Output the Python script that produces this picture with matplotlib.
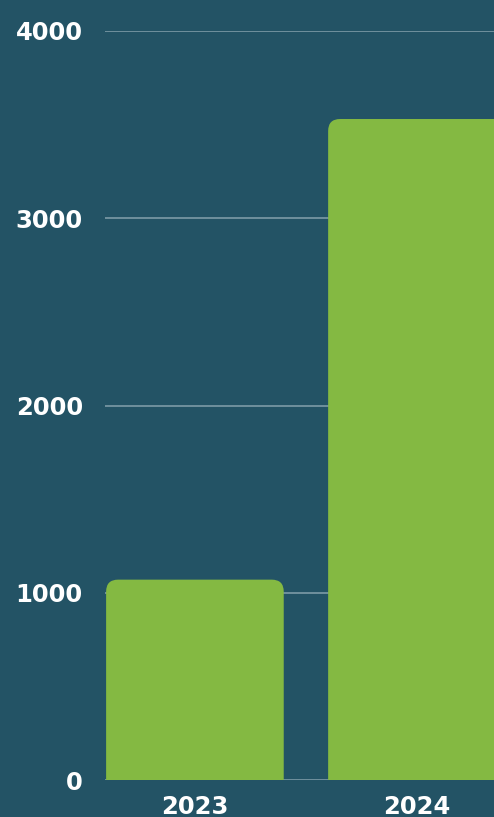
import matplotlib.pyplot as plt
from matplotlib.patches import FancyBboxPatch

years = ["2023", "2024"]
values = [1070, 3530]
yticks = [0, 1000, 2000, 3000, 4000]

bg = "#235365"
green = "#84b942"
grid = "#7d9ba6"

plt.rcParams['font.family'] = ['DejaVu Sans']

fig = plt.figure(figsize=(4.94, 8.17), dpi=100, facecolor=bg)
ax = fig.add_axes([105 / 494, 37 / 817, 1 - 105 / 494, (780 - 31) / 817])
ax.set_facecolor(bg)

x = list(range(len(years)))
bars = ax.bar(x, values, width=0.8, color=green, zorder=2)

# swap the plain bars for ones with rounded top corners
r_px = 12
ax.set_xlim(-0.405, 1.347)
ax.set_ylim(0, 4000)
fig.canvas.draw()
sx = ax.transData.transform((1, 0))[0] - ax.transData.transform((0, 0))[0]
sy = ax.transData.transform((0, 1000))[1] - ax.transData.transform((0, 0))[1]
rx = r_px / sx
ry = r_px / sy * 1000
for b in bars:
    bx, by = b.get_x(), b.get_y()
    w, h = b.get_width(), b.get_height()
    b.set_visible(False)
    p = FancyBboxPatch((bx, by - ry), w, h + ry,
                       boxstyle=f"round,pad=0,rounding_size={rx}",
                       mutation_aspect=ry / rx,
                       facecolor=green, edgecolor="none", zorder=2)
    ax.add_patch(p)

ax.set_yticks(yticks)
ax.set_yticklabels([str(t) for t in yticks])
ax.set_xticks(x)
ax.set_xticklabels(years)
ax.yaxis.grid(True, color=grid, linewidth=1.2, zorder=1)
ax.set_axisbelow(True)
for s in ax.spines.values():
    s.set_visible(False)
ax.tick_params(axis="y", length=0, pad=16, labelsize=17.5, labelcolor="white")
ax.tick_params(axis="x", length=0, pad=11, labelsize=17.5, labelcolor="white")
for lab in ax.get_xticklabels() + ax.get_yticklabels():
    lab.set_fontweight("bold")

fig.savefig("out.png", dpi=100, facecolor=bg)
